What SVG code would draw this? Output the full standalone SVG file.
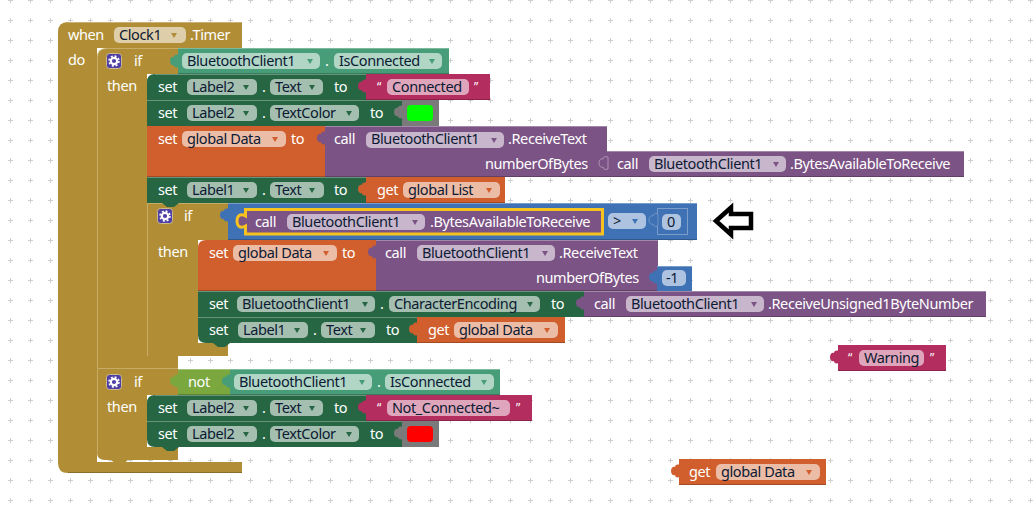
<svg xmlns="http://www.w3.org/2000/svg" width="1034" height="514" viewBox="0 0 1034 514">
<style>
text{font-family:"Noto Sans","Liberation Sans",sans-serif;font-size:14.500px;letter-spacing:-.4px}
.w{fill:#fff}.d{fill:#0c1a33}
.q{fill:#fff;font-size:12px}
.f{fill:#fff;fill-opacity:.58}
.au{fill:#b18e35}.dg{fill:#266643}.te{fill:#479d77}.or{fill:#d05f2d}.pu{fill:#7c5385}.bl{fill:#3f71b5}.pi{fill:#b32d5e}.gy{fill:#7a7a7a}.lg{fill:#7aa83e}
.hi{stroke:#fff;stroke-opacity:.3;fill:none}
.lo{stroke:#000;stroke-opacity:.22;fill:none}
.ah{stroke:#e0d2a5;stroke-opacity:.45;fill:none}
</style>
<defs>
<pattern id="grid" width="20" height="20" patternUnits="userSpaceOnUse" patternTransform="translate(0,-10)"><path d="M8 10.500h5M10.500 8v5" stroke="#cfcfcf" fill="none"/></pattern>
<path id="tab" d="M1-7C-2-8-4-7-4-5C-6-6-8-4-8-1C-8 2-6 4-4 3C-4 5-2 6 1 5Z"/>
<path id="dd" d="M1 1h6l-3 5z"/>
<path id="bump" d="M0 0l5 4h7l5-4z"/>
<g id="gear"><rect x=".5" y=".5" width="15" height="15" rx="3" fill="#4f3fa5" stroke="#cdbd8c"/><circle cx="8" cy="8" r="3.200" fill="none" stroke="#fff" stroke-width="2.200"/><circle cx="8" cy="8" r="5" fill="none" stroke="#fff" stroke-width="1.500" stroke-dasharray="2 1.930"/></g>
</defs>
<rect width="1034" height="514" fill="#fff"/>
<rect width="1034" height="514" fill="url(#grid)"/>

<g id="when-timer">
<path class="au" d="M68 22H242V48H97V462H242V473H68Q58 473 58 463V32Q58 22 68 22Z"/>
<path class="hi" d="M68 22.500H242"/><path class="lo" d="M68 472.500H242"/>
<text class="w" x="68" y="40">when</text>
<rect class="f" x="114" y="27" width="72" height="16" rx="5"/><text class="d" x="119" y="40">Clock1</text><use href="#dd" class="au" x="170" y="32"/>
<text class="w" x="190" y="40">.Timer</text>
<text class="w" x="68" y="65">do</text>
</g>

<g id="if-connected">
<path class="au" d="M107 48H178V74H147V355H178V368H97V58Q97 48 107 48Z"/>
<path class="ah" d="M97.500 368V58Q97.500 48.500 107 48.500H178"/>
<use href="#gear" x="106" y="53"/>
<text class="w" x="134" y="66">if</text>
<text class="w" x="107" y="91">then</text>
</g>
<g id="is-connected-1">
<rect class="te" x="178" y="48" width="271" height="26"/><path class="hi" d="M178 48.500H449"/><path class="lo" d="M178 73.500H449"/>
<use href="#tab" class="te" x="178" y="62"/>
<rect class="f" x="182" y="53" width="138" height="16" rx="5"/><text class="d" x="187" y="66">BluetoothClient1</text><use href="#dd" class="te" x="306" y="58"/>
<text class="w" x="325" y="66">.</text>
<rect class="f" x="334" y="53" width="108" height="16" rx="5"/><text class="d" x="339" y="66">IsConnected</text><use href="#dd" class="te" x="428" y="58"/>
</g>

<g id="set-label2-text">
<path class="dg" d="M155 74H366V100H147V82Q147 74 155 74Z"/><path class="hi" d="M155 74.500H366"/>
<use href="#bump" class="dg" x="162" y="100"/>
<text class="w" x="158" y="92">set</text>
<rect class="f" x="187" y="79" width="70" height="16" rx="5"/><text class="d" x="192" y="92">Label2</text><use href="#dd" class="dg" x="242" y="84"/>
<text class="w" x="262" y="92">.</text>
<rect class="f" x="270" y="79" width="53" height="16" rx="5"/><text class="d" x="275" y="92">Text</text><use href="#dd" class="dg" x="308" y="84"/>
<text class="w" x="334" y="92">to</text>
</g>
<g id="text-connected">
<rect class="pi" x="366" y="74" width="124" height="26"/><path class="lo" d="M366 99.500H490"/>
<use href="#tab" class="pi" x="366" y="87"/>
<text class="q" x="377" y="91">“</text>
<rect class="f" x="387" y="79" width="82" height="16" rx="5"/><text class="d" x="392" y="92">Connected</text>
<text class="q" x="474" y="91">”</text>
</g>
<g id="set-label2-color">
<rect class="dg" x="147" y="100" width="255" height="26"/><path class="hi" d="M147 100.500H402"/>
<use href="#bump" class="dg" x="162" y="126"/>
<text class="w" x="158" y="118">set</text>
<rect class="f" x="187" y="105" width="70" height="16" rx="5"/><text class="d" x="192" y="118">Label2</text><use href="#dd" class="dg" x="242" y="110"/>
<text class="w" x="262" y="118">.</text>
<rect class="f" x="270" y="105" width="89" height="16" rx="5"/><text class="d" x="275" y="118">TextColor</text><use href="#dd" class="dg" x="345" y="110"/>
<text class="w" x="370" y="118">to</text>
</g>
<g id="color-green">
<rect class="gy" x="402" y="100" width="37" height="26"/>
<use href="#tab" class="gy" x="402" y="113"/>
<rect x="407" y="105" width="26" height="16" rx="4" fill="#0f0"/>
</g>

<g id="set-global-data-1">
<rect class="or" x="147" y="126" width="178" height="51"/><path class="lo" d="M147 176.500H325"/>
<text class="w" x="158" y="144">set</text>
<rect class="f" x="182" y="131" width="104" height="16" rx="5"/><text class="d" x="187" y="144">global Data</text><use href="#dd" class="or" x="271" y="136"/>
<text class="w" x="291" y="144">to</text>
</g>
<g id="call-receive-text-1">
<rect class="pu" x="325" y="126" width="282" height="51"/><path class="hi" d="M325 126.500H607"/><path class="lo" d="M325 176.500H607"/>
<use href="#tab" class="pu" x="325" y="139"/>
<text class="w" x="334" y="144">call</text>
<rect class="f" x="366" y="132" width="138" height="16" rx="5"/><text class="d" x="371" y="144">BluetoothClient1</text><use href="#dd" class="pu" x="490" y="137"/>
<text class="w" x="508" y="144">.ReceiveText</text>
<text class="w" x="485" y="169">numberOfBytes</text>
</g>
<g id="call-bytes-available-1">
<rect class="pu" x="607" y="151" width="357" height="26"/><path class="hi" d="M607 151.500H964"/><path class="lo" d="M607 176.500H964"/>
<use href="#tab" class="pu" x="607" y="164" stroke="#b9a3bf" stroke-width=".8"/>
<text class="w" x="617" y="169">call</text>
<rect class="f" x="649" y="156" width="137" height="16" rx="5"/><text class="d" x="654" y="169">BluetoothClient1</text><use href="#dd" class="pu" x="772" y="161"/>
<text class="w" x="790" y="169">.BytesAvailableToReceive</text>
</g>

<g id="set-label1-list">
<rect class="dg" x="147" y="177" width="219" height="26"/><path class="hi" d="M147 177.500H366"/>
<use href="#bump" class="dg" x="162" y="203"/>
<text class="w" x="158" y="195">set</text>
<rect class="f" x="187" y="182" width="70" height="16" rx="5"/><text class="d" x="192" y="195">Label1</text><use href="#dd" class="dg" x="242" y="187"/>
<text class="w" x="262" y="195">.</text>
<rect class="f" x="270" y="182" width="54" height="16" rx="5"/><text class="d" x="275" y="195">Text</text><use href="#dd" class="dg" x="308" y="187"/>
<text class="w" x="334" y="195">to</text>
</g>
<g id="get-global-list">
<rect class="or" x="366" y="177" width="139" height="26"/><path class="lo" d="M366 202.500H505"/>
<use href="#tab" class="or" x="366" y="190"/>
<text class="w" x="377" y="195">get</text>
<rect class="f" x="403" y="182" width="97" height="16" rx="5"/><text class="d" x="408" y="195">global List</text><use href="#dd" class="or" x="485" y="187"/>
</g>

<g id="if-bytes">
<path class="au" d="M147 203H228V240H198V343H228V356H147Z"/>
<path class="ah" d="M147.500 356V203.500H228"/>
<use href="#bump" class="dg" x="162" y="203"/>
<use href="#gear" x="157" y="208"/>
<text class="w" x="184" y="221">if</text>
<text class="w" x="158" y="257">then</text>
</g>
<g id="compare">
<rect class="bl" x="228" y="203" width="469" height="37"/><path class="hi" d="M228 203.500H697"/><path class="lo" d="M228 239.500H697"/>
<use href="#tab" class="bl" x="228" y="216"/>
<rect class="f" x="608" y="213" width="38" height="16" rx="5"/><text class="d" x="613" y="226">&gt;</text><use href="#dd" class="bl" x="631" y="218"/>
</g>
<g id="call-bytes-available-2">
<path d="M245.500 209.500H602.500V234H245.500V226C240 229 237 226 237 221C237 216 240 213 245.500 216Z" class="pu" stroke="#f5c21f" stroke-width="3"/>
<text class="w" x="255" y="227">call</text>
<rect class="f" x="287" y="214" width="138" height="16" rx="5"/><text class="d" x="292" y="227">BluetoothClient1</text><use href="#dd" class="pu" x="411" y="219"/>
<text class="w" x="430" y="227">.BytesAvailableToReceive</text>
</g>
<g id="number-0">
<rect x="657.500" y="208.500" width="30" height="26" class="bl" stroke="#7d9dcb"/>
<use href="#tab" class="bl" x="657" y="221" stroke="#7d9dcb" stroke-width=".8"/>
<rect class="f" x="662" y="214" width="19" height="16" rx="5"/><text class="d" x="667" y="227">0</text>
</g>
<g id="arrow"><path d="M716 221L731 207.500V214H751V228H731V234.500Z" fill="#fff" stroke="#000" stroke-width="4.500"/></g>

<g id="set-global-data-2">
<path class="or" d="M206 240H376V291H198V248Q198 240 206 240Z"/><path class="lo" d="M198 290.500H376"/>
<use href="#bump" class="or" x="213" y="291"/>
<text class="w" x="209" y="258">set</text>
<rect class="f" x="233" y="245" width="104" height="16" rx="5"/><text class="d" x="238" y="258">global Data</text><use href="#dd" class="or" x="322" y="250"/>
<text class="w" x="342" y="258">to</text>
</g>
<g id="call-receive-text-2">
<rect class="pu" x="376" y="240" width="282" height="51"/><path class="hi" d="M376 240.500H658"/><path class="lo" d="M376 290.500H658"/>
<use href="#tab" class="pu" x="376" y="253"/>
<text class="w" x="385" y="258">call</text>
<rect class="f" x="417" y="245" width="138" height="16" rx="5"/><text class="d" x="422" y="258">BluetoothClient1</text><use href="#dd" class="pu" x="541" y="250"/>
<text class="w" x="559" y="258">.ReceiveText</text>
<text class="w" x="536" y="283">numberOfBytes</text>
</g>
<g id="number-minus1">
<rect class="bl" x="657" y="266" width="35" height="25"/><path class="hi" d="M657 266.500H692"/>
<use href="#tab" class="bl" x="657" y="278"/>
<rect class="f" x="662" y="270" width="24" height="16" rx="5"/><text class="d" x="666" y="283">-1</text>
</g>

<g id="set-character-encoding">
<rect class="dg" x="198" y="291" width="386" height="26"/><path class="hi" d="M198 291.500H584"/>
<use href="#bump" class="dg" x="213" y="317"/>
<text class="w" x="209" y="309">set</text>
<rect class="f" x="237" y="296" width="138" height="16" rx="5"/><text class="d" x="242" y="309">BluetoothClient1</text><use href="#dd" class="dg" x="361" y="301"/>
<text class="w" x="380" y="309">.</text>
<rect class="f" x="389" y="296" width="151" height="16" rx="5"/><text class="d" x="394" y="309">CharacterEncoding</text><use href="#dd" class="dg" x="526" y="301"/>
<text class="w" x="551" y="309">to</text>
</g>
<g id="call-unsigned">
<rect class="pu" x="584" y="291" width="402" height="26"/><path class="hi" d="M584 291.500H986"/><path class="lo" d="M584 316.500H986"/>
<use href="#tab" class="pu" x="584" y="304"/>
<text class="w" x="594" y="309">call</text>
<rect class="f" x="626" y="296" width="138" height="16" rx="5"/><text class="d" x="631" y="309">BluetoothClient1</text><use href="#dd" class="pu" x="750" y="301"/>
<text class="w" x="768" y="309">.ReceiveUnsigned1ByteNumber</text>
</g>
<g id="set-label1-data">
<path class="dg" d="M198 317H417V343H206Q198 343 198 335Z"/><path class="hi" d="M198 317.500H417"/>
<use href="#bump" class="dg" x="213" y="343"/>
<text class="w" x="209" y="335">set</text>
<rect class="f" x="238" y="322" width="70" height="16" rx="5"/><text class="d" x="243" y="335">Label1</text><use href="#dd" class="dg" x="293" y="327"/>
<text class="w" x="313" y="335">.</text>
<rect class="f" x="321" y="322" width="54" height="16" rx="5"/><text class="d" x="326" y="335">Text</text><use href="#dd" class="dg" x="359" y="327"/>
<text class="w" x="386" y="335">to</text>
</g>
<g id="get-global-data-1">
<rect class="or" x="417" y="317" width="148" height="26"/><path class="lo" d="M417 342.500H565"/>
<use href="#tab" class="or" x="417" y="330"/>
<text class="w" x="428" y="335">get</text>
<rect class="f" x="454" y="322" width="104" height="16" rx="5"/><text class="d" x="459" y="335">global Data</text><use href="#dd" class="or" x="543" y="327"/>
</g>

<g id="text-warning">
<rect class="pi" x="838" y="345" width="108" height="26"/><path class="lo" d="M838 370.500H946"/>
<use href="#tab" class="pi" x="838" y="358"/>
<text class="q" x="848" y="362">“</text>
<rect class="f" x="859" y="350" width="65" height="16" rx="5"/><text class="d" x="864" y="363">Warning</text>
<text class="q" x="930" y="362">”</text>
</g>

<g id="if-not-connected">
<path class="au" d="M97 368H178V395H147V447H178V460H105Q97 460 97 452Z"/>
<path class="ah" d="M97.500 452V368.500H178"/>
<use href="#bump" class="au" x="111" y="460"/>
<use href="#gear" x="106" y="374"/>
<text class="w" x="134" y="387">if</text>
<text class="w" x="107" y="412">then</text>
</g>
<g id="not">
<rect class="lg" x="178" y="369" width="52" height="26"/><path class="hi" d="M178 369.500H230"/><path class="lo" d="M178 394.500H230"/>
<use href="#tab" class="lg" x="178" y="382"/>
<text class="w" x="188" y="387">not</text>
</g>
<g id="is-connected-2">
<rect class="te" x="230" y="369" width="270" height="26"/><path class="hi" d="M230 369.500H500"/><path class="lo" d="M230 394.500H500"/>
<use href="#tab" class="te" x="230" y="382"/>
<rect class="f" x="234" y="374" width="138" height="16" rx="5"/><text class="d" x="239" y="387">BluetoothClient1</text><use href="#dd" class="te" x="358" y="379"/>
<text class="w" x="377" y="387">.</text>
<rect class="f" x="385" y="374" width="109" height="16" rx="5"/><text class="d" x="390" y="387">IsConnected</text><use href="#dd" class="te" x="480" y="379"/>
</g>
<g id="set-label2-text-2">
<path class="dg" d="M155 395H366V421H147V403Q147 395 155 395Z"/><path class="hi" d="M155 395.500H366"/>
<use href="#bump" class="dg" x="162" y="421"/>
<text class="w" x="158" y="413">set</text>
<rect class="f" x="187" y="400" width="70" height="16" rx="5"/><text class="d" x="192" y="413">Label2</text><use href="#dd" class="dg" x="242" y="405"/>
<text class="w" x="262" y="413">.</text>
<rect class="f" x="270" y="400" width="53" height="16" rx="5"/><text class="d" x="275" y="413">Text</text><use href="#dd" class="dg" x="308" y="405"/>
<text class="w" x="334" y="413">to</text>
</g>
<g id="text-not-connected">
<rect class="pi" x="366" y="395" width="166" height="26"/><path class="lo" d="M366 420.500H532"/>
<use href="#tab" class="pi" x="366" y="408"/>
<text class="q" x="377" y="412">“</text>
<rect class="f" x="387" y="400" width="123" height="16" rx="5"/><text class="d" x="392" y="413">Not_Connected~</text>
<text class="q" x="516" y="412">”</text>
</g>
<g id="set-label2-color-2">
<path class="dg" d="M147 421H402V447H155Q147 447 147 439Z"/><path class="hi" d="M147 421.500H402"/>
<use href="#bump" class="dg" x="162" y="447"/>
<text class="w" x="158" y="439">set</text>
<rect class="f" x="187" y="426" width="70" height="16" rx="5"/><text class="d" x="192" y="439">Label2</text><use href="#dd" class="dg" x="242" y="431"/>
<text class="w" x="262" y="439">.</text>
<rect class="f" x="270" y="426" width="89" height="16" rx="5"/><text class="d" x="275" y="439">TextColor</text><use href="#dd" class="dg" x="345" y="431"/>
<text class="w" x="370" y="439">to</text>
</g>
<g id="color-red">
<rect class="gy" x="402" y="421" width="37" height="26"/>
<use href="#tab" class="gy" x="402" y="434"/>
<rect x="407" y="426" width="26" height="16" rx="4" fill="#f00"/>
</g>

<g id="get-global-data-2">
<rect class="or" x="679" y="459" width="147" height="26"/><path class="lo" d="M679 484.500H826"/>
<use href="#tab" class="or" x="679" y="472"/>
<text class="w" x="689" y="477">get</text>
<rect class="f" x="716" y="464" width="104" height="16" rx="5"/><text class="d" x="721" y="477">global Data</text><use href="#dd" class="or" x="805" y="469"/>
</g>
</svg>
